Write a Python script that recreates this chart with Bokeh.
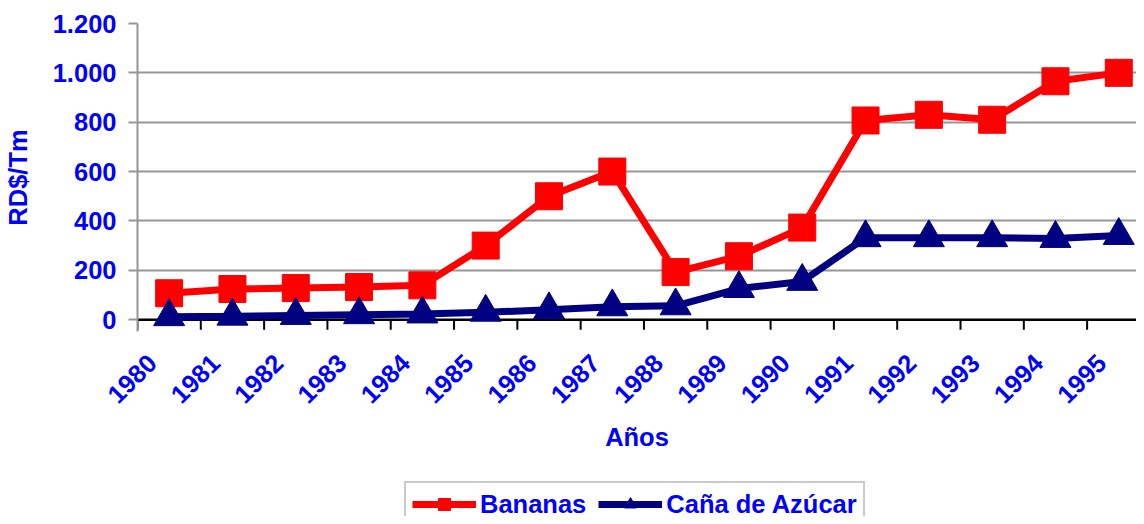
import math
from bokeh.plotting import figure
from bokeh.layouts import column
from bokeh.models import (Range1d, LinearAxis, FixedTicker, Span, Legend,
                          LegendItem, ColumnDataSource)
from bokeh.embed import file_html
from bokeh.resources import INLINE

# ---- data -------------------------------------------------------------
years = ["1980", "1981", "1982", "1983", "1984", "1985", "1986", "1987",
         "1988", "1989", "1990", "1991", "1992", "1993", "1994", "1995"]
bananas = [107, 124, 128, 132, 139, 300, 500, 600,
           193, 257, 373, 807, 830, 810, 966, 1000]
cana = [12, 14, 17, 20, 23, 30, 40, 52,
        56, 126, 155, 332, 332, 332, 329, 341]
y_ticks = [0, 200, 400, 600, 800, 1000, 1200]
y_tick_labels = ["0", "200", "400", "600", "800", "1.000", "1.200"]
series_names = ["Bananas", "Caña de Azúcar"]

# ---- style ------------------------------------------------------------
FONT = "Liberation Sans"
BLUE = "#0000FF"
GRID = "#969696"
FS = "25.5px"
RED = "#FF0000"
NAVY = "#000080"

xpos = list(range(len(years)))
src = ColumnDataSource(dict(x=xpos, bananas=bananas, cana=cana))

X0, X1 = -0.5, 15.28
LAB_SHIFT = 0.27

p = figure(width=1136, height=478, output_backend="svg", toolbar_location=None,
           x_range=Range1d(X0, X1), y_range=Range1d(-48, 1200),
           x_axis_location=None, y_axis_location="left",
           min_border_top=23, min_border_right=0, min_border_left=0,
           min_border_bottom=147)
p.outline_line_color = None
p.background_fill_color = "white"
p.border_fill_color = "white"
p.xgrid.visible = False

p.ygrid.ticker = FixedTicker(ticks=y_ticks[1:])
p.ygrid.grid_line_color = GRID
p.ygrid.grid_line_width = 2

ya = p.yaxis[0]
ya.ticker = FixedTicker(ticks=y_ticks)
ya.major_label_overrides = dict(zip(y_ticks, y_tick_labels))
ya.axis_line_color = GRID
ya.axis_line_width = 2
ya.major_tick_line_color = GRID
ya.major_tick_line_width = 2
ya.major_tick_out = 9
ya.major_tick_in = 0
ya.minor_tick_line_color = None
ya.major_label_standoff = 12
ya.major_label_text_font = FONT
ya.major_label_text_font_style = "bold"
ya.major_label_text_color = BLUE
ya.major_label_text_font_size = FS
ya.axis_label = "RD$/Tm"
ya.axis_label_standoff = 18
ya.axis_label_text_font = FONT
ya.axis_label_text_font_style = "bold"
ya.axis_label_text_color = BLUE
ya.axis_label_text_font_size = FS

# category axis line at zero and boundary ticks
p.add_layout(Span(location=0, dimension="width", line_color="black",
                  line_width=2.5, level="underlay"))
bounds = [i - 0.5 for i in range(len(years))]
p.segment(x0=bounds, y0=[0] * len(bounds), x1=bounds, y1=[-41] * len(bounds),
          line_color="black", line_width=2)

# label axis
p.extra_x_ranges = {"lab": Range1d(X0 + LAB_SHIFT, X1 + LAB_SHIFT)}
xa = LinearAxis(x_range_name="lab", ticker=FixedTicker(ticks=xpos),
                major_label_overrides={i: y for i, y in zip(xpos, years)})
xa.major_label_orientation = math.pi / 4
xa.axis_line_color = None
xa.major_tick_line_color = None
xa.minor_tick_line_color = None
xa.major_tick_out = 0
xa.major_tick_in = 0
xa.major_label_standoff = 27
xa.major_label_text_font = FONT
xa.major_label_text_font_style = "bold"
xa.major_label_text_color = BLUE
xa.major_label_text_font_size = FS
xa.axis_label = "Años"
xa.axis_label_standoff = 9
xa.axis_label_text_font = FONT
xa.axis_label_text_font_style = "bold"
xa.axis_label_text_color = BLUE
xa.axis_label_text_font_size = FS
p.add_layout(xa, "below")

# series
r1 = p.line("x", "bananas", source=src, line_color=RED, line_width=7)
s1 = p.scatter("x", "bananas", source=src, marker="square", size=27,
               fill_color=RED, line_color=RED)
r2 = p.line("x", "cana", source=src, line_color=NAVY, line_width=7)
s2 = p.scatter("x", "cana", source=src, marker="triangle", size=31,
               fill_color=NAVY, line_color=NAVY)

# legend strip below the chart (its renderers sit outside its visible range)
p2 = figure(width=1136, height=38, output_backend="svg", toolbar_location=None,
            x_range=Range1d(0, 1), y_range=Range1d(0, 1),
            x_axis_location=None, y_axis_location=None,
            min_border=0)
p2.outline_line_color = None
p2.xgrid.visible = False
p2.ygrid.visible = False
off = dict(x=[-10, -9], y=[-10, -10])
l1 = p2.line(x=off["x"], y=off["y"], line_color=RED, line_width=7)
m1 = p2.scatter(x=off["x"], y=off["y"], marker="square", size=27,
                fill_color=RED, line_color=RED)
l2 = p2.line(x=off["x"], y=off["y"], line_color=NAVY, line_width=7)
m2 = p2.scatter(x=off["x"], y=off["y"], marker="triangle", size=31,
                fill_color=NAVY, line_color=NAVY)

legend = Legend(items=[LegendItem(label=series_names[0], renderers=[l1, m1]),
                       LegendItem(label=series_names[1], renderers=[l2, m2])],
                orientation="horizontal", location=(267, -11),
                glyph_width=64, glyph_height=30, label_standoff=4,
                spacing=12, padding=6, margin=0,
                border_line_color=GRID, border_line_width=2,
                label_text_font=FONT, label_text_font_style="bold",
                label_text_color=BLUE, label_text_font_size=FS)
p2.add_layout(legend, "center")

layout = column(p, p2, spacing=0)
open("out.html", "w").write(file_html(layout, INLINE))
